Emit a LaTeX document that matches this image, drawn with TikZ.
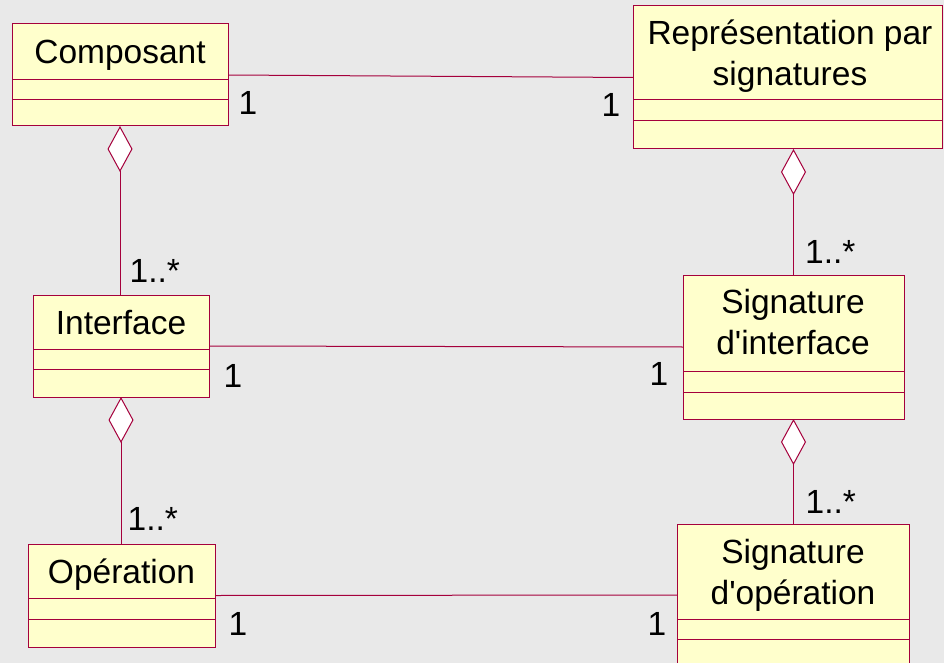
\documentclass[tikz,border=0pt]{standalone}
\usepackage{fontspec}
\setmainfont{Liberation Sans}
\usetikzlibrary{arrows.meta}
\definecolor{bgcol}{RGB}{233,233,233}
\definecolor{umlfill}{RGB}{255,255,204}
\definecolor{umlline}{RGB}{165,0,60}
\begin{document}
\begin{tikzpicture}[x=1pt,y=-1pt,
  cls/.style={draw=umlline, fill=umlfill, line width=1pt, inner sep=0pt, outer sep=0pt, rectangle},
  title/.style={font=\fontsize{33.5}{41}\selectfont, align=center, anchor=base, inner sep=0pt},
  mult/.style={font=\fontsize{33.5}{41}\selectfont, inner sep=0pt, anchor=base},
  div/.style={draw=umlline, line width=1pt},
  assoc/.style={draw=umlline, line width=1pt},
  agg/.style={assoc, {Diamond[length=46pt,width=25pt,fill=white,line width=1pt]}-}
]
\fill[bgcol] (0,0) rectangle (944,663);
\useasboundingbox (0,0) rectangle (944,663);

% classes
\node[cls, minimum width=216pt, minimum height=102pt] (comp) at (120,75) {};
\node[cls, minimum width=309pt, minimum height=143pt] (rep) at (787.5,77.5) {};
\node[cls, minimum width=176pt, minimum height=102pt] (intf) at (121,346) {};
\node[cls, minimum width=221pt, minimum height=144pt] (sigi) at (793.5,347) {};
\node[cls, minimum width=187pt, minimum height=103pt] (oper) at (121.5,595.5) {};
\node[cls, minimum width=232pt, minimum height=142pt] (sigop) at (793,595) {};

% compartments
\draw[div] ([yshift=-56pt]comp.north west) -- ([yshift=-56pt]comp.north east);
\draw[div] ([yshift=-76pt]comp.north west) -- ([yshift=-76pt]comp.north east);
\draw[div] ([yshift=-94pt]rep.north west) -- ([yshift=-94pt]rep.north east);
\draw[div] ([yshift=-115pt]rep.north west) -- ([yshift=-115pt]rep.north east);
\draw[div] ([yshift=-54pt]intf.north west) -- ([yshift=-54pt]intf.north east);
\draw[div] ([yshift=-74pt]intf.north west) -- ([yshift=-74pt]intf.north east);
\draw[div] ([yshift=-96pt]sigi.north west) -- ([yshift=-96pt]sigi.north east);
\draw[div] ([yshift=-117pt]sigi.north west) -- ([yshift=-117pt]sigi.north east);
\draw[div] ([yshift=-54pt]oper.north west) -- ([yshift=-54pt]oper.north east);
\draw[div] ([yshift=-75pt]oper.north west) -- ([yshift=-75pt]oper.north east);
\draw[div] ([yshift=-95pt]sigop.north west) -- ([yshift=-95pt]sigop.north east);
\draw[div] ([yshift=-115pt]sigop.north west) -- ([yshift=-115pt]sigop.north east);

% titles (base anchor = baseline of the last line)
\node[title] (tcomp) at (120,64) {Composant};
\node[title] (trep) at (790,86) {Représentation par\\signatures};
\node[title] (tintf) at (121,334) {Interface};
\node[title] (tsigi) at (793,354) {Signature\\d\textquotesingle interface};
\node[title] (toper) at (121.5,583) {Opération};
\node[title] (tsigop) at (793,604) {Signature\\d\textquotesingle opération};

% associations
\draw[assoc] (comp.east) -- (rep.west);
\draw[assoc] (intf.east) -- (sigi.west);
\draw[assoc] (oper.east) -- (sigop.west);

% aggregations
\draw[agg] (comp.south) -- (comp.south |- intf.north);
\draw[agg] (intf.south) -- (intf.south |- oper.north);
\draw[agg] (sigi.north |- rep.south) -- (sigi.north);
\draw[agg] (sigi.south) -- (sigi.south |- sigop.north);

% multiplicities
\node[mult] (m1) at (248,115) {1};
\node[mult] (m2) at (611,117) {1};
\node[mult, anchor=base west] (m3) at (129.5,282) {1..*};
\node[mult, anchor=base west] (m4) at (805,263) {1..*};
\node[mult] (m5) at (233,387) {1};
\node[mult] (m6) at (659,385) {1};
\node[mult, anchor=base west] (m7) at (127.5,530) {1..*};
\node[mult, anchor=base west] (m8) at (805.5,513) {1..*};
\node[mult] (m9) at (238,635) {1};
\node[mult] (m10) at (657,635) {1};
\end{tikzpicture}
\end{document}
